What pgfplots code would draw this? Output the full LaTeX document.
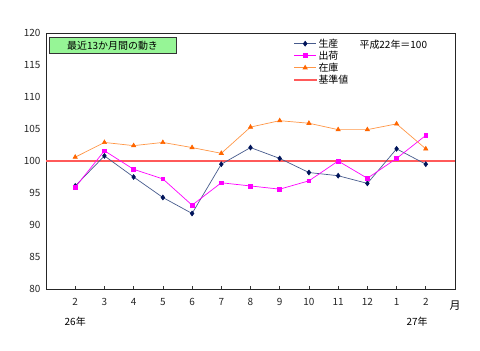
\documentclass[border=0pt]{standalone}
\usepackage{pgfplots}
\pgfplotsset{compat=1.18}
\usepackage{fontspec}
\setmainfont{Noto Sans CJK JP}
\definecolor{prodline}{RGB}{70,90,140}
\definecolor{prodmark}{RGB}{0,20,90}
\definecolor{shipc}{RGB}{255,0,255}
\definecolor{invline}{RGB}{255,150,70}
\definecolor{invmark}{RGB}{255,102,0}
\definecolor{basec}{RGB}{255,90,90}
\definecolor{boxgreen}{RGB}{150,245,150}
\begin{document}
\begin{tikzpicture}
\begin{axis}[
  at={(0,0)}, anchor=south west,
  scale only axis, width=409bp, height=256bp,
  xmin=-1, xmax=13, ymin=80, ymax=120,
  xtick={0,...,12},
  xticklabels={2,3,4,5,6,7,8,9,10,11,12,1,2},
  ytick={80,85,...,120},
  tick align=inside,
  major tick length=3bp,
  xtick pos=bottom, ytick pos=left,
  ytick style={draw=none},
  axis line style={black!85, line width=0.9pt},
  xtick style={black!80, line width=0.6pt},
  tick label style={font=\fontsize{10}{11}\selectfont, text=black!85},
  yticklabel style={xshift=-2bp},
  xticklabel style={yshift=-6bp},
  /pgf/number format/assume math mode=true,
  legend style={at={(rel axis cs:0.603,0.99)}, anchor=north west, draw=none, fill=none,
    font=\fontsize{10}{11}\selectfont, row sep=-1.8pt, inner sep=1pt},
  legend cell align=left,
  legend image code/.code={
    \draw[mark repeat=2,mark phase=2,#1] plot coordinates {(0bp,0bp) (11bp,0bp) (22bp,0bp)};},
  clip=false,
]
\addplot[basec, line width=1.3pt, forget plot] coordinates {(-1,100) (13,100)};
\addplot[prodline, line width=0.7pt, mark=diamond*, mark size=2.4pt, mark options={fill=prodmark, draw=prodmark}] coordinates {
(0,96.1) (1,100.8) (2,97.5) (3,94.3) (4,91.8) (5,99.5) (6,102.1) (7,100.4) (8,98.2) (9,97.7) (10,96.5) (11,101.9) (12,99.5)};
\addlegendentry{生産}
\addplot[shipc, line width=0.7pt, mark=square*, mark size=1.9pt, mark options={fill=shipc}] coordinates {
(0,95.9) (1,101.6) (2,98.7) (3,97.2) (4,93.1) (5,96.6) (6,96.1) (7,95.6) (8,96.9) (9,100.0) (10,97.3) (11,100.4) (12,104.0)};
\addlegendentry{出荷}
\addplot[invline, line width=0.7pt, mark=triangle*, mark size=2.4pt, mark options={fill=invmark, draw=invmark}] coordinates {
(0,100.6) (1,102.9) (2,102.4) (3,102.9) (4,102.1) (5,101.2) (6,105.3) (7,106.3) (8,105.9) (9,104.9) (10,104.9) (11,105.8) (12,101.9)};
\addlegendentry{在庫}
\addlegendimage{legend image code/.code={\fill[basec] (0bp,-0.45bp) rectangle (22bp,0.45bp);}}
\addlegendentry{基準値}
\node[anchor=west, font=\fontsize{10}{11}\selectfont] at (rel axis cs:0.758,0.956) {平成22年＝100};
\node[draw=black!80, fill=boxgreen, anchor=north west, minimum width=127bp, minimum height=16bp, inner sep=0pt, font=\fontsize{10}{11}\selectfont] at (rel axis cs:0.007,0.984) {最近13か月間の動き};
\node[font=\fontsize{10}{11}\selectfont] at (axis cs:0,74.9) {26年};
\node[font=\fontsize{10}{11}\selectfont] at (axis cs:11.7,74.9) {27年};
\node[font=\fontsize{11}{12}\selectfont] at (axis cs:13,77.4) {月};
\end{axis}
\path[use as bounding box] (-46bp,-62bp) rectangle (434bp,289bp);
\end{tikzpicture}
\end{document}
